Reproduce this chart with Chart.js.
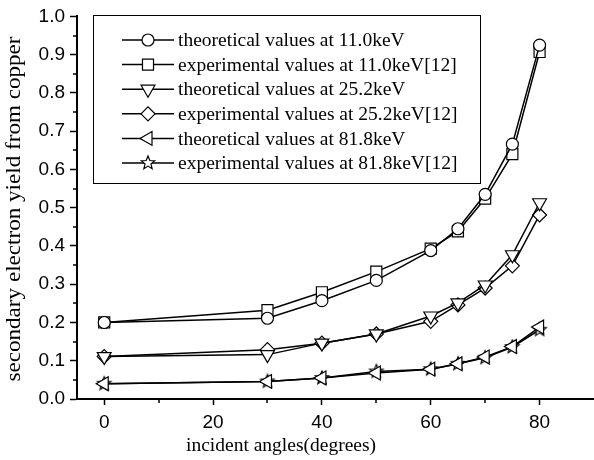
<!DOCTYPE html>
<html>
<head>
<meta charset="utf-8">
<script src="https://cdn.jsdelivr.net/npm/chart.js@4.4.1/dist/chart.umd.min.js"></script>
<style>
    html, body { margin: 0; padding: 0; background: #fff; }
    #wrap { width: 594px; height: 460px; }
</style>
</head>
<body>
<div id="wrap"><canvas id="yield-chart" width="594" height="460"></canvas></div>
<script>
// incident angles (degrees)
var angles = [0, 30, 40, 50, 60, 65, 70, 75, 80];

// secondary electron yield from copper
var theo11 = [0.200, 0.211, 0.257, 0.310, 0.388, 0.445, 0.535, 0.666, 0.925];
var exp11 = [0.200, 0.232, 0.279, 0.333, 0.393, 0.438, 0.524, 0.640, 0.907];
var theo25 = [0.111, 0.116, 0.146, 0.170, 0.217, 0.251, 0.298, 0.377, 0.513];
var exp25 = [0.111, 0.129, 0.146, 0.170, 0.203, 0.246, 0.290, 0.348, 0.481];
var theo81 = [0.040, 0.046, 0.055, 0.068, 0.078, 0.092, 0.110, 0.137, 0.188];
var exp81 = [0.040, 0.046, 0.055, 0.072, 0.078, 0.092, 0.108, 0.136, 0.181];

var seriesLabels = [
    'theoretical values at 11.0keV',
    'experimental values at 11.0keV[12]',
    'theoretical values at 25.2keV',
    'experimental values at 25.2keV[12]',
    'theoretical values at 81.8keV',
    'experimental values at 81.8keV[12]'
];

var xTicks = [0, 20, 40, 60, 80];
var xMinorTicks = [10, 30, 50, 70];
var yTicks = [0, 0.1, 0.2, 0.3, 0.4, 0.5, 0.6, 0.7, 0.8, 0.9, 1.0];

// five point star marker (chart.js 'star' is an asterisk)
function makeStar() {
    var c = document.createElement('canvas');
    c.width = 18; c.height = 18;
    var g = c.getContext('2d');
    g.beginPath();
    for (var i = 0; i < 10; i++) {
        var r = i % 2 === 0 ? 7 : 3.1;
        var a = -Math.PI / 2 + i * Math.PI / 5;
        var px = 9 + r * Math.cos(a), py = 9 + r * Math.sin(a);
        if (i === 0) g.moveTo(px, py); else g.lineTo(px, py);
    }
    g.closePath();
    g.fillStyle = '#fff';
    g.fill();
    g.lineWidth = 1.2;
    g.strokeStyle = '#000';
    g.stroke();
    return c;
}
var starImg = makeStar();

function points(vals) {
    return vals.map(function (v, i) { return {x: angles[i], y: v}; });
}

var markers = [
    {pointStyle: 'circle', radius: 6, rotation: 0},
    {pointStyle: 'rect', radius: 7.8, rotation: 0},
    {pointStyle: 'triangle', radius: 8, rotation: 180},
    {pointStyle: 'rectRot', radius: 7, rotation: 0},
    {pointStyle: 'triangle', radius: 8, rotation: 270},
    {pointStyle: starImg, radius: 8, rotation: 0}
];
var series = [theo11, exp11, theo25, exp25, theo81, exp81];

var datasets = series.map(function (vals, i) {
    return {
        label: seriesLabels[i],
        data: points(vals),
        borderColor: '#000',
        borderWidth: 1.5,
        backgroundColor: '#fff',
        pointStyle: markers[i].pointStyle,
        pointRadius: markers[i].radius,
        pointRotation: markers[i].rotation,
        pointBorderWidth: 1.2,
        pointBorderColor: '#000',
        pointBackgroundColor: '#fff',
        tension: 0
    };
});

var serif = '"Liberation Serif", "Times New Roman", serif';

var decorations = {
    id: 'decorations',
    afterDraw: function (chart) {
        var ctx = chart.ctx;
        var xs = chart.scales.x, ys = chart.scales.y;
        var area = chart.chartArea;
        ctx.save();
        ctx.strokeStyle = '#000';
        ctx.lineWidth = 1.5;
        // minor ticks
        ctx.beginPath();
        xMinorTicks.forEach(function (v) {
            var px = Math.round(xs.getPixelForValue(v));
            ctx.moveTo(px, area.bottom);
            ctx.lineTo(px, area.bottom + 4);
        });
        for (var k = 0; k < yTicks.length - 1; k++) {
            var py = Math.round(ys.getPixelForValue((yTicks[k] + yTicks[k + 1]) / 2));
            ctx.moveTo(area.left, py);
            ctx.lineTo(area.left - 4, py);
        }
        ctx.stroke();

        // axis titles
        ctx.fillStyle = '#000';
        ctx.font = '19.5px ' + serif;
        ctx.textAlign = 'center';
        ctx.textBaseline = 'middle';
        ctx.fillText('incident angles(degrees)', 281, 446);
        ctx.font = '21px ' + serif;
        ctx.translate(14, 209);
        ctx.rotate(-Math.PI / 2);
        ctx.scale(1.1, 1);
        ctx.fillText('secondary electron yield from copper', 0, 0);
        ctx.setTransform(1, 0, 0, 1, 0, 0);

        // legend box
        ctx.lineWidth = 1;
        ctx.strokeRect(93.5, 15.5, 387, 168);
        ctx.textAlign = 'left';
        ctx.font = '19.5px ' + serif;
        for (var i = 0; i < seriesLabels.length; i++) {
            var y = 40 + i * 24.6;
            ctx.lineWidth = 1.5;
            ctx.beginPath();
            ctx.moveTo(122, y);
            ctx.lineTo(174, y);
            ctx.stroke();
            ctx.fillStyle = '#fff';
            ctx.strokeStyle = '#000';
            ctx.lineWidth = 1.2;
            Chart.helpers.drawPoint(ctx, {
                pointStyle: markers[i].pointStyle,
                radius: markers[i].radius,
                rotation: markers[i].rotation,
                borderWidth: 1.2
            }, 148, y);
            ctx.fillStyle = '#000';
            ctx.fillText(seriesLabels[i], 178, y + 1);
        }
        ctx.restore();
    }
};

var ctx = document.getElementById('yield-chart').getContext('2d');
var yieldChart = new Chart(ctx, {
    type: 'line',
    data: {datasets: datasets},
    options: {
        responsive: false,
        animation: false,
        layout: {autoPadding: false, padding: {top: 15, right: 0, left: 0, bottom: 0}},
        plugins: {
            legend: {display: false},
            tooltip: {enabled: false}
        },
        scales: {
            x: {
                type: 'linear',
                min: -5,
                max: 90,
                afterBuildTicks: function (s) {
                    s.ticks = xTicks.map(function (v) { return {value: v}; });
                },
                afterFit: function (s) {
                    s.height = 61;
                    s.paddingLeft = 0;
                    s.paddingRight = 0;
                },
                grid: {display: true, drawOnChartArea: false, drawTicks: true, tickLength: 6, tickWidth: 1.5, tickColor: '#000'},
                border: {display: true, color: '#000', width: 2},
                ticks: {
                    color: '#000',
                    padding: 6,
                    maxRotation: 0,
                    font: {family: '"Liberation Sans", Arial, sans-serif', size: 19}
                }
            },
            y: {
                type: 'linear',
                min: 0,
                max: 1.0,
                afterBuildTicks: function (s) {
                    s.ticks = yTicks.map(function (v) { return {value: v}; });
                },
                afterFit: function (s) { s.width = 77; },
                grid: {display: true, drawOnChartArea: false, drawTicks: true, tickLength: 7, tickWidth: 1.5, tickColor: '#000'},
                border: {display: true, color: '#000', width: 2},
                ticks: {
                    color: '#000',
                    padding: 5,
                    font: {family: '"Liberation Sans", Arial, sans-serif', size: 19},
                    callback: function (v) { return v.toFixed(1); }
                }
            }
        }
    },
    plugins: [decorations]
});
</script>
</body>
</html>
